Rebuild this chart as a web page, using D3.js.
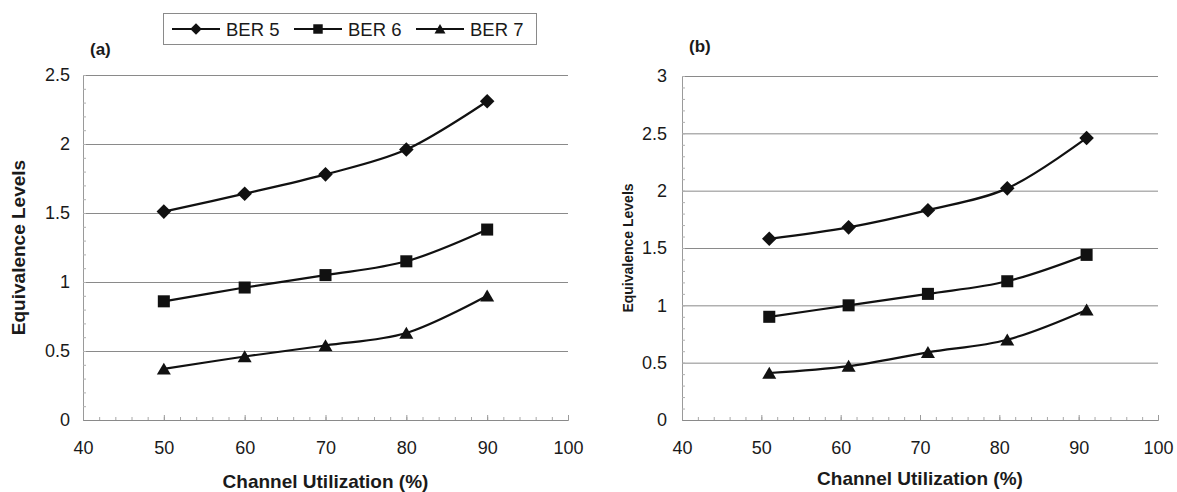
<!DOCTYPE html>
<html>
<head>
<meta charset="utf-8">
<script src="https://cdn.jsdelivr.net/npm/d3@7/dist/d3.min.js"></script>
<style>
  html, body { margin: 0; padding: 0; background: #fff; }
  svg { display: block; }
  text { font-family: "Liberation Sans", Arial, Helvetica, sans-serif; fill: #1a1a1a; }
</style>
</head>
<body>
<svg id="chart" width="1177" height="492"></svg>
<script>
// ---- data ----
const seriesNames = ["BER 5", "BER 6", "BER 7"];
const utilA = [50, 60, 70, 80, 90];
const utilB = [51, 61, 71, 81, 91];
const ber5A = [1.51, 1.64, 1.78, 1.96, 2.31];
const ber6A = [0.86, 0.96, 1.05, 1.15, 1.38];
const ber7A = [0.37, 0.46, 0.54, 0.63, 0.90];
const ber5B = [1.58, 1.68, 1.83, 2.02, 2.46];
const ber6B = [0.90, 1.00, 1.10, 1.21, 1.44];
const ber7B = [0.41, 0.47, 0.59, 0.70, 0.96];
const xTicks = [40, 50, 60, 70, 80, 90, 100];
const yTicksA = [0, 0.5, 1, 1.5, 2, 2.5];
const yTicksB = [0, 0.5, 1, 1.5, 2, 2.5, 3];
const xTitle = "Channel Utilization (%)";
const yTitle = "Equivalence Levels";

const svg = d3.select("#chart");

// marker shapes: diamond, square, triangle
function markerPath(kind, s) {
  if (kind === 0) { const r = s * 0.52; return `M0,${-r}L${r},0L0,${r}L${-r},0Z`; }
  if (kind === 1) { const h = s * 0.43; return `M${-h},${-h}H${h}V${h}H${-h}Z`; }
  const w = s * 0.5, t = s * 0.45;
  return `M0,${-t}L${w},${t * 0.9}L${-w},${t * 0.9}Z`;
}

function drawPanel(opt) {
  const g = svg.append("g");
  const x = d3.scaleLinear().domain([40, 100]).range([opt.left, opt.right]);
  const y = d3.scaleLinear().domain([0, opt.yMax]).range([opt.bottom, opt.top]);

  // horizontal gridlines at major ticks
  g.append("g")
    .attr("transform", `translate(${opt.left},0)`)
    .call(d3.axisLeft(y).tickValues(opt.yTicks.filter(v => v > 0)).tickSize(-(opt.right - opt.left)).tickFormat(""))
    .call(a => a.select(".domain").remove())
    .call(a => a.selectAll("line").attr("stroke", "#8a8a8a").attr("stroke-width", 1));

  // minor ticks on the value axis (inside)
  const yMinor = d3.range(0, opt.yMax + 1e-9, 0.1).map(v => +v.toFixed(1));
  g.append("g")
    .attr("transform", `translate(${opt.left},0)`)
    .call(d3.axisRight(y).tickValues(yMinor).tickSize(3).tickFormat(""))
    .call(a => a.select(".domain").attr("stroke", "#9a9a9a"))
    .call(a => a.selectAll("line").attr("stroke", "#b0b0b0"));

  // minor ticks on the category axis (inside, pointing up)
  const xMinor = d3.range(40, 100.001, 2);
  g.append("g")
    .attr("transform", `translate(0,${opt.bottom})`)
    .call(d3.axisTop(x).tickValues(xMinor).tickSize(3).tickFormat(""))
    .call(a => a.select(".domain").attr("stroke", "#8a8a8a"))
    .call(a => a.selectAll("line").attr("stroke", "#a8a8a8"));
  g.append("g")
    .attr("transform", `translate(0,${opt.bottom})`)
    .call(d3.axisTop(x).tickValues(xTicks).tickSize(5).tickFormat(""))
    .call(a => a.select(".domain").remove())
    .call(a => a.selectAll("line").attr("stroke", "#9a9a9a"));

  // tick labels
  g.append("g")
    .attr("transform", `translate(${opt.left},0)`)
    .call(d3.axisLeft(y).tickValues(opt.yTicks).tickSize(0).tickPadding(opt.yPad).tickFormat(d3.format("")))
    .call(a => a.select(".domain").remove())
    .call(a => a.selectAll("text").style("font-family", "'Liberation Sans', Arial, sans-serif")
      .style("font-size", "18px").attr("fill", "#1a1a1a"));
  g.append("g")
    .attr("transform", `translate(0,${opt.bottom})`)
    .call(d3.axisBottom(x).tickValues(xTicks).tickSize(0).tickPadding(21).tickFormat(d3.format("")))
    .call(a => a.select(".domain").remove())
    .call(a => a.selectAll("text").style("font-family", "'Liberation Sans', Arial, sans-serif")
      .style("font-size", "18px").attr("fill", "#1a1a1a"));

  // series lines + markers
  const line = d3.line()
    .x(d => x(d[0])).y(d => y(d[1]))
    .curve(d3.curveCatmullRom.alpha(0.5));
  opt.series.forEach((vals, i) => {
    const pts = opt.xs.map((xv, j) => [xv, vals[j]]);
    g.append("path").datum(pts)
      .attr("d", line).attr("fill", "none")
      .attr("stroke", "#111").attr("stroke-width", 2.2);
    g.selectAll(null).data(pts).enter().append("path")
      .attr("d", markerPath(i, 14))
      .attr("transform", d => `translate(${x(d[0])},${y(d[1])})`)
      .attr("fill", "#111");
  });

  // panel label
  svg.append("text").attr("x", opt.left + 7).attr("y", opt.labelY)
    .style("font-weight", "bold").style("font-size", "17px").text(opt.label);

  // axis titles
  svg.append("text")
    .attr("x", (opt.left + opt.right) / 2).attr("y", opt.xTitleY)
    .attr("text-anchor", "middle")
    .style("font-weight", "bold").style("font-size", "19px").text(xTitle);
  svg.append("text")
    .attr("transform", `translate(${opt.yTitleX},${(opt.top + opt.bottom) / 2}) rotate(-90)`)
    .attr("text-anchor", "middle")
    .style("font-weight", "bold").style("font-size", opt.yTitleSize + "px").text(yTitle);
}

drawPanel({
  left: 83, right: 568, top: 75, bottom: 420, yMax: 2.5, yTicks: yTicksA, yPad: 13,
  xs: utilA, series: [ber5A, ber6A, ber7A], label: "(a)", labelY: 55,
  xTitleY: 488, yTitleX: 25, yTitleSize: 19
});
drawPanel({
  left: 682, right: 1158, top: 76, bottom: 420, yMax: 3, yTicks: yTicksB, yPad: 15,
  xs: utilB, series: [ber5B, ber6B, ber7B], label: "(b)", labelY: 52,
  xTitleY: 485, yTitleX: 633, yTitleSize: 14
});

// legend
const legend = svg.append("g");
legend.append("rect").attr("x", 163.5).attr("y", 13.5).attr("width", 373).attr("height", 31)
  .attr("fill", "#fff").attr("stroke", "#8a8a8a").attr("stroke-width", 1);
seriesNames.forEach((name, i) => {
  const x0 = 172 + i * 122, cy = 29;
  legend.append("line").attr("x1", x0).attr("x2", x0 + 48).attr("y1", cy).attr("y2", cy)
    .attr("stroke", "#111").attr("stroke-width", 2.2);
  legend.append("path").attr("d", markerPath(i, 11))
    .attr("transform", `translate(${x0 + 24},${cy})`).attr("fill", "#111");
  legend.append("text").attr("x", x0 + 54).attr("y", cy + 7)
    .style("font-size", "18.5px").text(name);
});
</script>
</body>
</html>
